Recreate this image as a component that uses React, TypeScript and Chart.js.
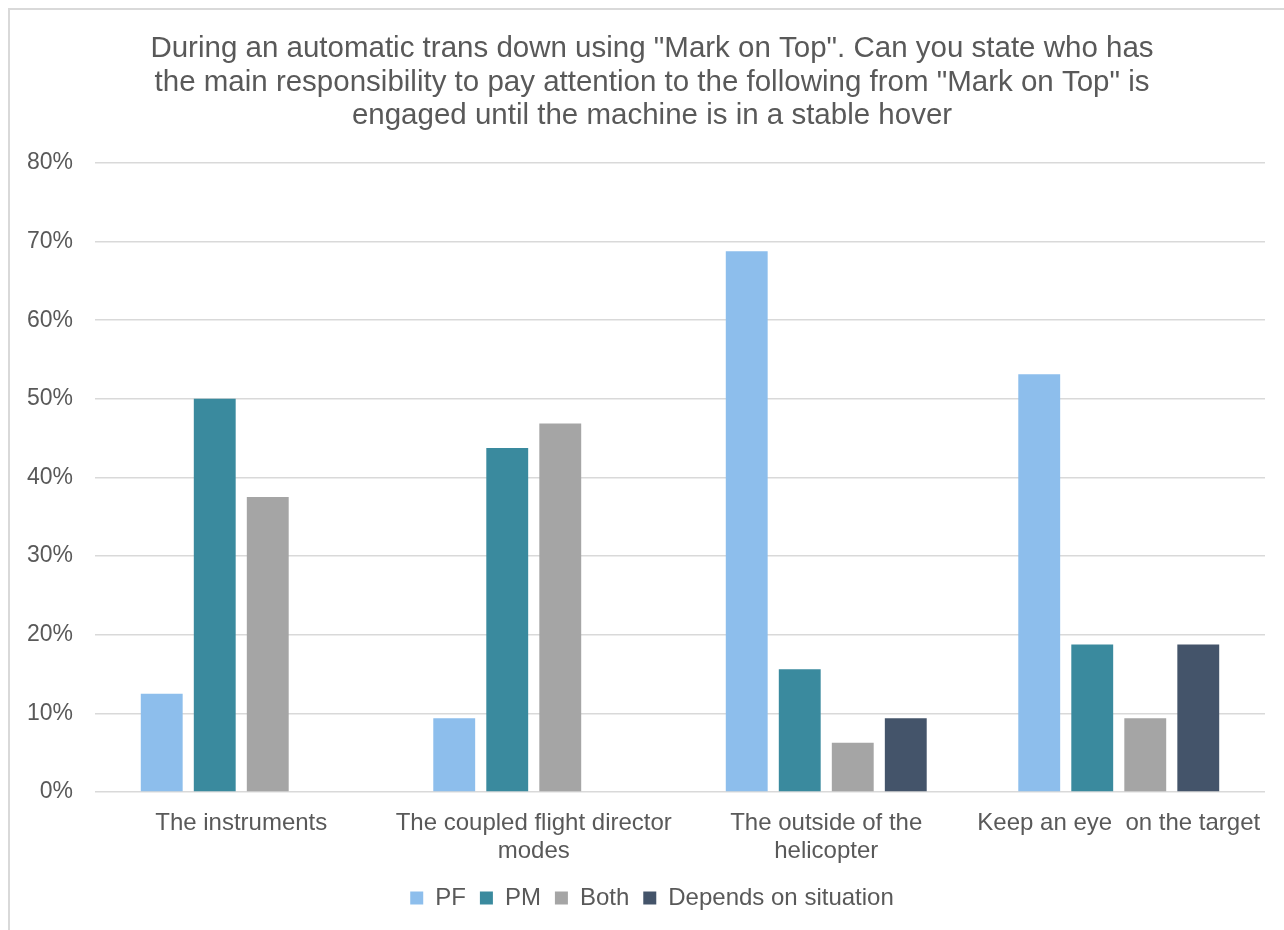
import React, { useEffect, useRef } from "react";
import { Chart, registerables } from "chart.js";

Chart.register(...registerables);

// Survey categories (multi-line labels are arrays)
const categories: (string | string[])[] = [
  "The instruments",
  ["The coupled flight director", "modes"],
  ["The outside of the", "helicopter"],
  "Keep an eye  on the target",
];

// Share of respondents per answer, in percent
const pfValues = [12.5, 9.375, 68.75, 53.125];
const pmValues = [50, 43.75, 15.625, 18.75];
const bothValues = [37.5, 46.875, 6.25, 9.375];
const dependsValues = [0, 0, 9.375, 18.75];

const seriesNames = ["PF", "PM", "Both", "Depends on situation"];
const seriesColors = ["#8DBEEC", "#3A8A9E", "#A5A5A5", "#44546A"];

const titleLines = [
  'During an automatic trans down using "Mark on Top". Can you state who has',
  'the main responsibility to pay attention to the following from "Mark on Top" is',
  "engaged until the machine is in a stable hover",
];

const yTicks = [0, 10, 20, 30, 40, 50, 60, 70, 80];

const FONT = "'Liberation Sans', Arial, sans-serif";
const TEXT = "#595959";
const GRID = "#D9D9D9";

export default function App() {
  const canvasRef = useRef<HTMLCanvasElement | null>(null);

  useEffect(() => {
    const canvas = canvasRef.current;
    if (!canvas) return;
    const series = [pfValues, pmValues, bothValues, dependsValues];
    const chart = new Chart(canvas, {
      type: "bar",
      data: {
        labels: categories,
        datasets: series.map((values, i) => ({
          label: seriesNames[i],
          data: values,
          backgroundColor: seriesColors[i],
          borderWidth: 0,
          categoryPercentage: 0.725,
          barPercentage: 0.79,
        })),
      },
      options: {
        animation: false,
        responsive: false,
        maintainAspectRatio: false,
        layout: { padding: { left: 0, right: 0, top: 22, bottom: 10 } },
        plugins: {
          tooltip: { enabled: false },
          title: {
            display: true,
            text: titleLines,
            color: TEXT,
            font: { family: FONT, size: 29.5, weight: "normal", lineHeight: 1.14 },
            padding: { top: 0, bottom: 30 },
          },
          legend: {
            position: "bottom",
            labels: {
              color: TEXT,
              font: { family: FONT, size: 24 },
              boxWidth: 13,
              boxHeight: 13,
              padding: 14,
            },
          },
        },
        scales: {
          x: {
            grid: { display: false, drawTicks: false },
            border: { display: false },
            ticks: {
              color: TEXT,
              font: { family: FONT, size: 24, lineHeight: 1.15 },
              padding: 18,
              maxRotation: 0,
              autoSkip: false,
            },
            afterFit: (scale: any) => {
              scale.height = 80;
            },
          },
          y: {
            min: 0,
            max: 80,
            afterBuildTicks: (scale: any) => {
              scale.ticks = yTicks.map((v) => ({ value: v }));
            },
            grid: { color: GRID, lineWidth: 1.5, drawTicks: false },
            border: { display: false },
            ticks: {
              color: TEXT,
              font: { family: FONT, size: 23 },
              padding: 22,
              callback: (v: any) => v + "%",
            },
            afterFit: (scale: any) => {
              scale.width = 85;
            },
          },
          // empty right-hand gutter between plot area and the chart frame
          gutter: {
            type: "linear",
            position: "right",
            display: true,
            grid: { display: false, drawTicks: false },
            border: { display: false },
            ticks: { display: false },
            afterFit: (scale: any) => {
              scale.width = 29;
            },
          },
        },
      },
    });
    return () => chart.destroy();
  }, []);

  return (
    <div
      style={{
        position: "fixed",
        left: 0,
        top: 0,
        width: 1284,
        height: 930,
        overflow: "hidden",
        background: "#fff",
      }}
    >
      <div
        style={{
          position: "absolute",
          left: 8,
          top: 8,
          width: 1300,
          height: 940,
          borderLeft: `2px solid ${GRID}`,
          borderTop: `2px solid ${GRID}`,
        }}
      >
        <canvas ref={canvasRef} width={1284} height={920} style={{ display: "block" }} />
      </div>
    </div>
  );
}
